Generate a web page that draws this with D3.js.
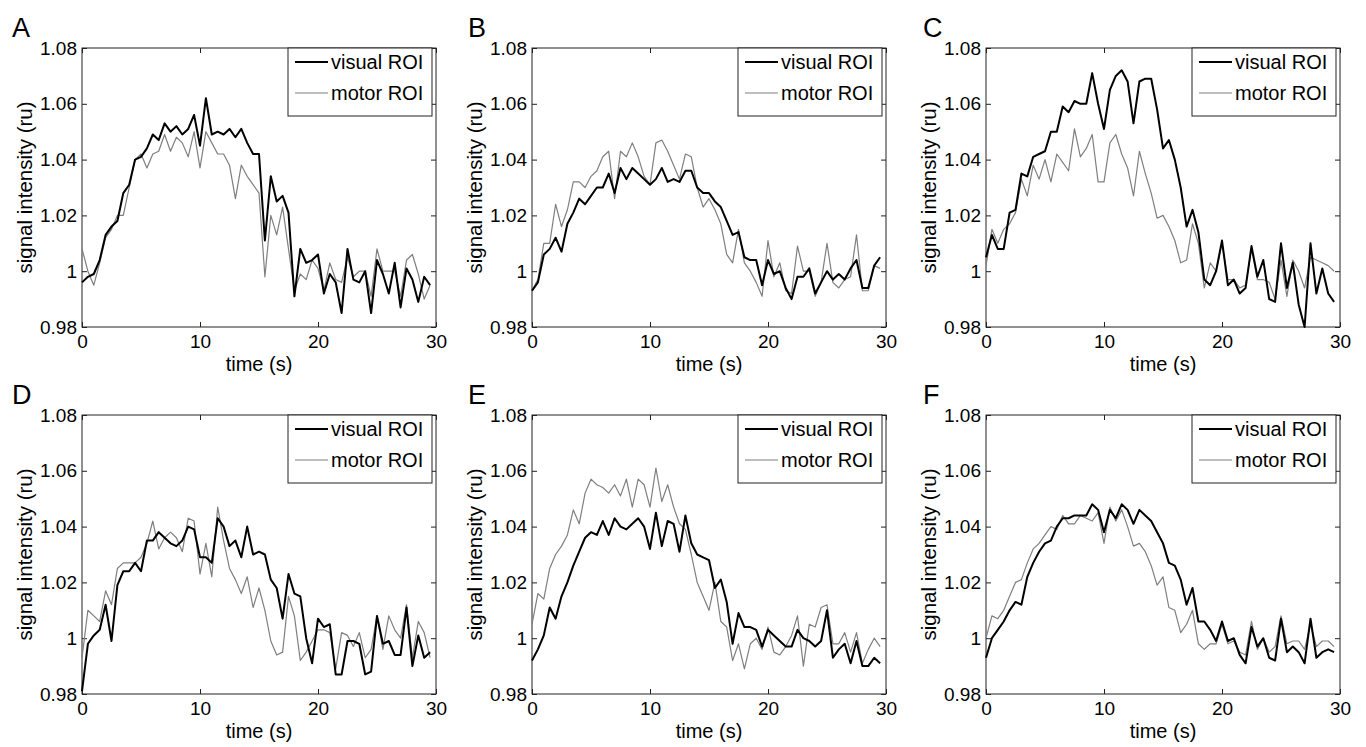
<!DOCTYPE html>
<html><head><meta charset="utf-8">
<script src="https://cdn.jsdelivr.net/npm/d3@7"></script>
<style>
html,body{margin:0;padding:0;background:#fff;}
svg{display:block;font-family:"Liberation Sans",Arial,Helvetica,sans-serif;}
</style></head>
<body>
<svg id="chart" width="1366" height="747"></svg>
<script>
// ---- data ----
const panelLabels = ["A","B","C","D","E","F"];
const seriesNames = ["visual ROI","motor ROI"];
const xTicks = [0,10,20,30];
const yTicks = [0.98,1.00,1.02,1.04,1.06,1.08];
const yTickLabels = ["0.98","1","1.02","1.04","1.06","1.08"];
const xLabel = "time (s)";
const yLabel = "signal intensity (ru)";
const times = d3.range(0, 30, 0.5);

const visualA = [0.996,0.998,0.999,1.004,1.013,1.016,1.018,1.028,1.031,1.040,
 1.041,1.044,1.049,1.047,1.053,1.050,1.052,1.049,1.051,1.056,
 1.045,1.062,1.049,1.050,1.049,1.051,1.048,1.051,1.046,1.042,
 1.042,1.011,1.034,1.025,1.027,1.021,0.991,1.008,1.003,1.004,
 1.006,0.992,0.999,0.996,0.985,1.008,0.997,0.996,1.000,0.985,
 1.004,0.999,0.992,1.003,0.987,1.001,0.997,0.989,0.998,0.995];
const motorA = [1.008,1.000,0.995,1.003,1.012,1.015,1.020,1.020,1.030,1.040,
 1.042,1.037,1.042,1.043,1.049,1.043,1.048,1.046,1.041,1.050,
 1.037,1.050,1.046,1.042,1.042,1.038,1.026,1.038,1.034,1.031,
 1.028,0.998,1.020,1.013,1.023,1.008,0.993,0.999,0.997,1.004,
 1.001,0.993,1.003,0.997,0.996,1.005,0.998,1.000,1.000,0.991,
 1.008,1.000,1.000,1.000,0.991,1.004,1.006,0.999,0.990,0.995];
const visualB = [0.993,0.996,1.006,1.008,1.012,1.007,1.017,1.021,1.026,1.024,
 1.027,1.030,1.030,1.035,1.028,1.037,1.033,1.037,1.035,1.033,
 1.031,1.033,1.037,1.032,1.033,1.032,1.036,1.036,1.030,1.028,
 1.028,1.025,1.023,1.018,1.013,1.014,1.005,1.004,1.004,0.995,
 1.004,0.999,1.000,0.994,0.990,0.998,0.998,1.001,0.992,0.996,
 1.000,0.997,0.999,0.997,1.001,1.004,0.994,0.994,1.002,1.005];
const motorB = [0.993,0.997,1.010,1.010,1.024,1.016,1.022,1.032,1.032,1.030,
 1.034,1.036,1.041,1.043,1.026,1.043,1.041,1.046,1.041,1.034,
 1.031,1.046,1.047,1.043,1.038,1.033,1.042,1.041,1.030,1.023,
 1.026,1.022,1.017,1.006,1.003,1.015,1.003,1.000,0.996,0.991,
 1.011,0.998,1.003,0.993,0.992,1.009,1.000,1.000,0.991,0.996,
 1.010,0.996,0.994,0.997,0.998,1.013,0.993,0.993,1.002,1.001];
const visualC = [1.005,1.013,1.008,1.008,1.021,1.022,1.035,1.034,1.041,1.042,
 1.043,1.050,1.050,1.059,1.057,1.061,1.060,1.060,1.071,1.060,
 1.051,1.065,1.070,1.072,1.068,1.053,1.068,1.069,1.069,1.058,
 1.044,1.047,1.040,1.030,1.016,1.022,1.014,0.997,0.995,1.000,
 1.011,0.995,0.997,0.992,0.994,1.009,0.998,1.004,0.990,0.989,
 1.010,0.994,1.003,0.988,0.980,1.010,0.992,1.001,0.992,0.989];
const motorC = [1.002,1.015,1.010,1.015,1.017,1.021,1.033,1.027,1.038,1.033,
 1.040,1.032,1.042,1.039,1.036,1.051,1.041,1.044,1.049,1.032,
 1.032,1.046,1.049,1.042,1.037,1.027,1.043,1.035,1.028,1.019,
 1.020,1.016,1.011,1.003,1.004,1.017,1.010,0.994,1.003,1.000,
 1.010,0.997,0.997,0.994,0.995,1.008,0.997,0.997,0.996,0.990,
 1.004,0.991,1.004,1.000,0.994,1.005,1.004,1.003,1.002,1.000];
const visualD = [0.981,0.998,1.001,1.003,1.012,0.999,1.019,1.024,1.024,1.027,
 1.024,1.035,1.035,1.038,1.036,1.034,1.033,1.035,1.040,1.039,
 1.029,1.029,1.027,1.043,1.040,1.033,1.035,1.029,1.040,1.030,
 1.031,1.030,1.021,1.018,1.007,1.023,1.016,1.015,1.000,0.991,
 1.007,1.004,1.005,0.987,0.987,0.999,0.999,0.998,0.987,0.988,
 1.008,0.998,0.999,0.994,0.994,1.011,0.990,1.001,0.993,0.995];
const motorD = [0.993,1.010,1.008,1.006,1.017,1.012,1.025,1.027,1.027,1.027,
 1.029,1.034,1.042,1.032,1.036,1.038,1.036,1.031,1.043,1.042,
 1.023,1.034,1.022,1.047,1.035,1.025,1.021,1.016,1.022,1.011,
 1.018,1.010,0.999,0.994,0.995,1.015,1.008,0.992,0.995,0.999,
 1.003,1.003,1.002,0.989,1.002,1.001,0.997,1.002,0.993,0.996,
 1.008,0.996,1.008,1.003,1.000,1.012,0.993,1.006,1.002,0.993];
const visualE = [0.992,0.996,1.001,1.011,1.007,1.015,1.020,1.026,1.031,1.036,
 1.038,1.037,1.042,1.037,1.043,1.040,1.039,1.041,1.043,1.040,
 1.032,1.045,1.033,1.042,1.041,1.031,1.044,1.034,1.030,1.029,
 1.028,1.018,1.021,1.013,0.998,1.009,1.004,1.004,1.003,0.997,
 1.003,1.001,0.999,0.997,0.997,1.003,1.000,0.999,0.997,0.999,
 1.010,0.993,0.996,0.998,0.991,0.999,0.990,0.990,0.993,0.991];
const motorE = [1.005,1.016,1.014,1.025,1.030,1.033,1.037,1.046,1.041,1.052,
 1.057,1.055,1.054,1.052,1.055,1.051,1.057,1.047,1.057,1.055,
 1.047,1.061,1.049,1.055,1.047,1.041,1.039,1.030,1.020,1.015,
 1.010,1.020,1.006,1.004,0.992,0.998,0.989,0.998,1.000,0.996,
 1.004,0.995,0.994,0.997,1.001,1.008,0.990,1.005,1.004,1.011,
 1.012,0.998,0.998,1.002,0.995,1.002,0.991,0.996,1.000,0.997];
const visualF = [0.993,1.000,1.003,1.006,1.010,1.013,1.012,1.022,1.027,1.031,
 1.034,1.035,1.040,1.043,1.043,1.044,1.044,1.044,1.048,1.046,
 1.038,1.046,1.043,1.048,1.046,1.041,1.046,1.044,1.042,1.038,
 1.034,1.027,1.026,1.021,1.012,1.018,1.006,1.006,1.003,0.999,
 1.006,0.999,1.000,0.994,0.991,1.004,0.997,1.000,0.993,0.992,
 1.007,0.995,0.997,0.995,0.991,1.007,0.993,0.995,0.996,0.995];
const motorF = [1.000,1.008,1.007,1.010,1.015,1.020,1.021,1.027,1.032,1.034,
 1.037,1.040,1.039,1.044,1.041,1.041,1.044,1.043,1.042,1.045,
 1.034,1.047,1.042,1.046,1.040,1.033,1.034,1.031,1.026,1.019,
 1.022,1.011,1.010,1.002,1.005,1.010,0.998,0.996,0.998,0.998,
 1.005,0.998,0.999,0.995,0.994,1.006,0.996,1.000,0.995,0.997,
 1.008,0.998,0.999,0.999,0.996,1.005,0.997,0.999,0.999,0.997];

const visualSeries = [visualA, visualB, visualC, visualD, visualE, visualF];
const motorSeries = [motorA, motorB, motorC, motorD, motorE, motorF];

// ---- layout ----
const colLeft = [82, 532, 986];
const rowTop = [48, 415];
const W = 354, H = 279;
const letterOffset = [-70, -64, -63];
const lineColors = ["#000000", "#7f7f7f"];
const lineWidths = [2, 1.2];

const svg = d3.select("#chart");

panelLabels.forEach((lab, i) => {
  const col = i % 3, row = Math.floor(i / 3);
  const left = colLeft[col], top = rowTop[row];
  const g = svg.append("g").attr("transform", `translate(${left},${top})`);
  const x = d3.scaleLinear().domain([0, 30]).range([0, W]);
  const y = d3.scaleLinear().domain([0.98, 1.08]).range([H, 0]);

  // axes box
  g.append("rect").attr("width", W).attr("height", H)
    .attr("fill", "none").attr("stroke", "#222").attr("stroke-width", 1);

  const axStyle = sel => {
    sel.selectAll(".domain").remove();
    sel.selectAll(".tick line").attr("stroke", "#222");
    sel.selectAll(".tick text").attr("fill", "#000")
      .style("font-family", "'Liberation Sans',Arial,sans-serif")
      .style("font-size", "19px");
  };

  g.append("g").attr("transform", `translate(0,${H})`)
    .call(d3.axisBottom(x).tickValues(xTicks).tickSizeInner(-5).tickSizeOuter(0).tickPadding(8))
    .call(axStyle);
  g.append("g")
    .call(d3.axisTop(x).tickValues(xTicks).tickSizeInner(-5).tickSizeOuter(0).tickFormat(""))
    .call(axStyle);
  g.append("g")
    .call(d3.axisLeft(y).tickValues(yTicks).tickSizeInner(-5).tickSizeOuter(0).tickPadding(5)
      .tickFormat((d, k) => yTickLabels[k]))
    .call(axStyle);
  g.append("g").attr("transform", `translate(${W},0)`)
    .call(d3.axisRight(y).tickValues(yTicks).tickSizeInner(-5).tickSizeOuter(0).tickFormat(""))
    .call(axStyle);

  // lines (motor first, visual on top)
  const line = d3.line().x((d, k) => x(times[k])).y(d => y(d));
  [1, 0].forEach(s => {
    const data = s === 0 ? visualSeries[i] : motorSeries[i];
    g.append("path").datum(data).attr("d", line)
      .attr("fill", "none").attr("stroke", lineColors[s])
      .attr("stroke-width", lineWidths[s]).attr("stroke-linejoin", "round");
  });

  // legend
  const lg = g.append("g").attr("transform", `translate(${W - 148},0)`);
  lg.append("rect").attr("x", 0).attr("y", 0).attr("width", 144).attr("height", 68)
    .attr("fill", "#fff").attr("stroke", "#222").attr("stroke-width", 1);
  seriesNames.forEach((nm, s) => {
    const yy = 14 + s * 31;
    lg.append("line").attr("x1", 7).attr("x2", 40).attr("y1", yy).attr("y2", yy)
      .attr("stroke", lineColors[s]).attr("stroke-width", lineWidths[s]);
    lg.append("text").attr("x", 43).attr("y", yy + 7).text(nm)
      .attr("font-size", 20).attr("fill", "#000");
  });

  // axis labels
  g.append("text").attr("x", W / 2).attr("y", H + 44).attr("text-anchor", "middle")
    .attr("font-size", 20).attr("fill", "#000").text(xLabel);
  g.append("text").attr("transform", `translate(-50,${H / 2}) rotate(-90)`)
    .attr("text-anchor", "middle").attr("font-size", 20.5).attr("fill", "#000").text(yLabel);

  // panel letter
  g.append("text").attr("x", letterOffset[col]).attr("y", -11)
    .attr("font-size", 27).attr("fill", "#000").text(lab);
});
</script>
</body></html>
